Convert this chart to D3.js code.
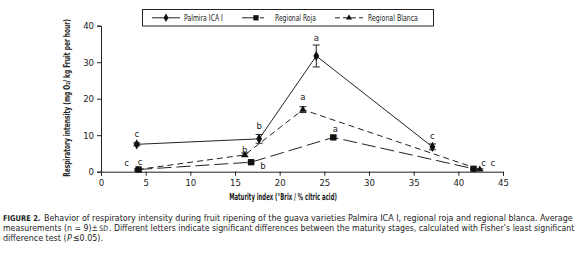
<!DOCTYPE html>
<html>
<head>
<meta charset="utf-8">
<script src="https://cdn.jsdelivr.net/npm/d3@7"></script>
<style>
  html, body { margin: 0; padding: 0; background: #fff; }
  svg { display: block; }
  text { font-family: "Liberation Sans Narrow", "DejaVu Sans Condensed", "Arial Narrow", sans-serif; fill: #222; }
</style>
</head>
<body>
<svg id="chart" width="580" height="253"></svg>
<script>
// ---------- data ----------
const seriesNames = ["Palmira ICA I", "Regional Roja", "Regional Blanca"];
const palmiraX = [4.0, 17.7, 24.1, 37.1];
const palmiraY = [7.5, 9.0, 31.7, 6.8];
const palmiraErr = [0.4, 1.2, 3.0, 0.8];
const palmiraLetters = ["c", "b", "a", "c"];

const rojaX = [4.2, 16.8, 26.0, 41.7];
const rojaY = [0.6, 2.6, 9.4, 0.8];
const rojaErr = [0.2, 0.3, 0.4, 0.2];
const rojaLetters = ["c", "b", "a", "c"];

const blancaX = [4.1, 16.1, 22.6, 42.4];
const blancaY = [0.6, 4.6, 17.0, 0.6];
const blancaErr = [0.2, 0.5, 0.8, 0.2];
const blancaLetters = ["c", "b", "a", "c"];

const xTicks = [0, 5, 10, 15, 20, 25, 30, 35, 40, 45];
const yTicks = [0, 10, 20, 30, 40];

// ---------- layout ----------
const svg = d3.select("#chart");
const x = d3.scaleLinear().domain([0, 45]).range([101, 503]);
const y = d3.scaleLinear().domain([0, 40]).range([171.7, 25.7]);
const ink = "#222";

// place a text so that its rendered width equals `len` (horizontal scaling)
function fit(t, len, tx, ty, rot) {
  t.attr("x", 0).attr("y", 0);
  const w = t.node().getComputedTextLength();
  const s = w > 0 ? len / w : 1;
  t.attr("transform", `translate(${tx},${ty})${rot ? ` rotate(${rot})` : ""} scale(${s.toFixed(4)},1)`);
  return t;
}

const series = [
  { name: seriesNames[0], xs: palmiraX, ys: palmiraY, err: palmiraErr, letters: palmiraLetters,
    dash: null, symbol: d3.symbolDiamond, size: 30, legLen: 39,
    labelOff: [[0, -6], [0, -5.5], [0, -4], [0, -5]] },
  { name: seriesNames[1], xs: rojaX, ys: rojaY, err: rojaErr, letters: rojaLetters,
    dash: "14,5", symbol: d3.symbolSquare, size: 40, legLen: 41,
    labelOff: [[1.5, -4], [12, 8], [2, -3.5], [10, -2.5]] },
  { name: seriesNames[2], xs: blancaX, ys: blancaY, err: blancaErr, letters: blancaLetters,
    dash: "6,4", symbol: d3.symbolTriangle, size: 22, legLen: 50,
    labelOff: [[-11, -3], [0, 0], [0, -6.5], [13, -3]] }
];

// axes
const yAxis = d3.axisLeft(y).tickValues(yTicks).tickSize(4).tickPadding(3);
const xAxis = d3.axisBottom(x).tickValues(xTicks).tickSize(4).tickPadding(4);

const gy = svg.append("g").attr("transform", "translate(101,0)").call(yAxis);
const gx = svg.append("g").attr("transform", "translate(0,171.7)").call(xAxis);
[gx, gy].forEach(g => {
  g.select(".domain").attr("stroke", ink).attr("stroke-width", 1);
  g.selectAll(".tick line").attr("stroke", ink);
  g.selectAll(".tick text").style("font-family", '"Liberation Sans Narrow", "DejaVu Sans Condensed", sans-serif')
    .style("font-size", "9.5px").attr("fill", "#333");
});

// axis titles
fit(svg.append("text")
  .attr("text-anchor", "middle")
  .style("font-size", "9.5px").style("font-weight", "bold")
  .text("Respiratory intensity (mg O\u2082/ kg Fruit per hour)"), 158, 70, 98, -90);

fit(svg.append("text")
  .attr("text-anchor", "middle")
  .style("font-size", "9.5px").style("font-weight", "bold")
  .text("Maturity index (°Brix / % citric acid)"), 108, 283, 200);

// series
const line = d3.line().x(d => x(d[0])).y(d => y(d[1]));
series.forEach(s => {
  const pts = s.xs.map((v, i) => [v, s.ys[i], s.err[i], s.letters[i]]);
  svg.append("path").datum(pts)
    .attr("d", line)
    .attr("fill", "none").attr("stroke", ink).attr("stroke-width", 1)
    .attr("stroke-dasharray", s.dash);
  // error bars
  const eb = svg.append("g");
  pts.forEach(p => {
    const cx = x(p[0]), y1 = y(p[1] + p[2]), y2 = y(p[1] - p[2]);
    eb.append("line").attr("x1", cx).attr("x2", cx).attr("y1", y1).attr("y2", y2).attr("stroke", ink);
    eb.append("line").attr("x1", cx - 3.5).attr("x2", cx + 3.5).attr("y1", y1).attr("y2", y1).attr("stroke", ink);
    eb.append("line").attr("x1", cx - 3.5).attr("x2", cx + 3.5).attr("y1", y2).attr("y2", y2).attr("stroke", ink);
  });
  // markers
  svg.append("g").selectAll("path").data(pts).join("path")
    .attr("transform", d => `translate(${x(d[0])},${y(d[1])})`)
    .attr("d", d3.symbol().type(s.symbol).size(s.size))
    .attr("fill", "#111");
  // letters
  svg.append("g").selectAll("text").data(pts).join("text")
    .attr("x", (d, i) => x(d[0]) + s.labelOff[i][0])
    .attr("y", (d, i) => y(d[1] + d[2]) + s.labelOff[i][1])
    .attr("text-anchor", "middle")
    .style("font-size", "9.5px").attr("fill", "#333")
    .text(d => d[3]);
});

// legend
const lg = svg.append("g");
lg.append("rect").attr("x", 142.5).attr("y", 9.5).attr("width", 291).attr("height", 16.5)
  .attr("fill", "#fff").attr("stroke", ink).attr("stroke-width", 1);
const legendX = [152, 242, 335];
const legendTextX = [184, 275, 368];
series.forEach((s, i) => {
  const x0 = legendX[i], ly = 17.8;
  lg.append("line").attr("x1", x0).attr("x2", x0 + 28).attr("y1", ly).attr("y2", ly)
    .attr("stroke", ink).attr("stroke-dasharray", s.dash === null ? null : (i === 1 ? "13,5,4,20" : "5,3"));
  lg.append("path").attr("transform", `translate(${x0 + 14},${ly})`)
    .attr("d", d3.symbol().type(s.symbol).size(s.size * 0.7)).attr("fill", "#111");
  fit(lg.append("text").style("font-size", "9.5px").text(s.name), s.legLen, legendTextX[i], ly + 3.3);
});

// caption: each line is a row of pieces sharing one horizontal scale; gap = pixels before a piece
const cap = svg.append("g").style("font-size", "9.5px");
function capLine(pieces, x0, y0, target, fixedScale) {
  const nodes = pieces.map(p => {
    const t = cap.append("text").attr("x", 0).attr("y", 0).text(p.t);
    if (p.style) p.style(t);
    return { t, w: t.node().getComputedTextLength(), gap: p.gap || 0 };
  });
  const total = d3.sum(nodes, n => n.w);
  const gaps = d3.sum(nodes, n => n.gap);
  const s = fixedScale || (target - gaps) / total;
  let cx = x0;
  nodes.forEach(n => {
    cx += n.gap;
    n.t.attr("transform", `translate(${cx.toFixed(2)},${y0}) scale(${s.toFixed(4)},1)`);
    cx += n.w * s;
  });
  return s;
}
const smallBold = t => t.style("font-weight", "bold").style("font-size", "8px").attr("fill", "#333");
const smallCaps = t => t.style("font-size", "7.5px");
const italic = t => t.style("font-style", "italic");
const s1 = capLine([
  { t: "FIGURE 2.", style: smallBold },
  { t: "Behavior of respiratory intensity during fruit ripening of the guava varieties Palmira ICA I, regional roja and regional blanca. Average", gap: 3.5 }
], 3, 221, 570);
capLine([
  { t: "measurements (n = 9)±" },
  { t: "SD", style: smallCaps, gap: 1 },
  { t: ". Different letters indicate significant differences between the maturity stages, calculated with Fisher’s least significant", gap: 1 }
], 3, 231, 572);
capLine([
  { t: "difference test (" },
  { t: "P", style: italic, gap: 0.5 },
  { t: "≤0.05).", gap: 1 }
], 3, 241, null, s1);
</script>
</body>
</html>
